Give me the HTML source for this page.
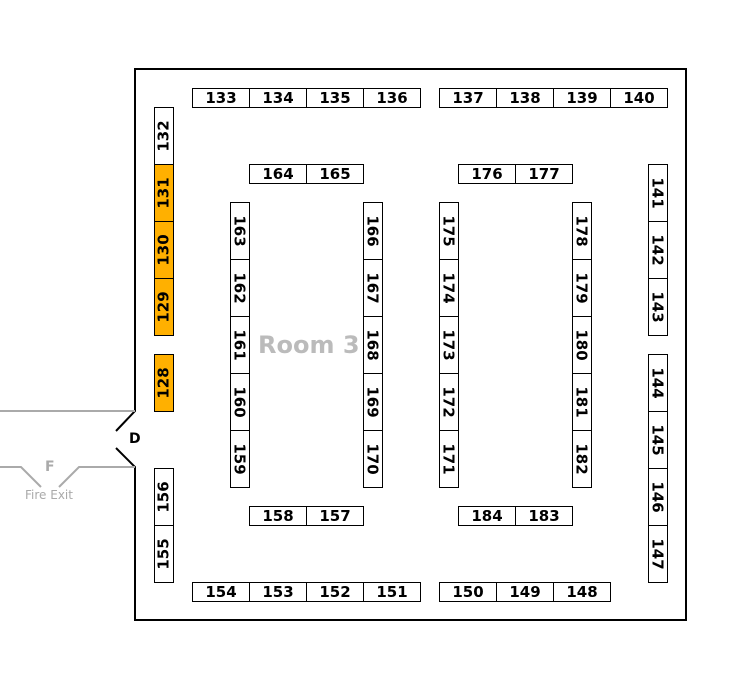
<!DOCTYPE html>
<html><head><meta charset="utf-8">
<style>
html,body{margin:0;padding:0;background:#fff;}
#c{position:relative;width:755px;height:689px;overflow:hidden;font-family:"DejaVu Sans","Liberation Sans",sans-serif;}
.b{position:absolute;box-sizing:border-box;border:1px solid #000;background:#fff;display:flex;align-items:center;justify-content:center;font-weight:bold;font-size:15px;color:#000;}
.h{width:58px;height:20px;}
.v{width:20px;height:58px;}
.v span{display:inline-block;white-space:nowrap;}
.up span{transform:rotate(-90deg);}
.dn span{transform:rotate(90deg);}
.o{background:#FFB000;}
svg{position:absolute;left:0;top:0;}
.t{position:absolute;font-weight:bold;}
</style></head><body><div id="c">
<svg width="755" height="689">
<path d="M116,431 L135,411 L135,69 L686,69 L686,620 L135,620 L135,467 L116,448" fill="none" stroke="#000" stroke-width="2"/>
<path d="M0,411 L135,411" stroke="#aaa" stroke-width="2" fill="none"/>
<path d="M0,467 L21,467 L41,487 M59,487 L79,467 L135,467" stroke="#aaa" stroke-width="2" fill="none"/>
</svg>
<div class="t" style="left:129px;top:431px;font-size:14px;">D</div>
<div class="t" style="left:45px;top:459px;font-size:14px;color:#aaa;">F</div>
<div class="t" style="left:25px;top:488px;font-size:12px;font-weight:normal;color:#aaa;">Fire Exit</div>
<div class="t" style="left:258px;top:331px;font-size:24px;color:#bbb;">Room 3</div>

<div class="b h" style="left:192px;top:88px">133</div>
<div class="b h" style="left:249px;top:88px">134</div>
<div class="b h" style="left:306px;top:88px">135</div>
<div class="b h" style="left:363px;top:88px">136</div>
<div class="b h" style="left:439px;top:88px">137</div>
<div class="b h" style="left:496px;top:88px">138</div>
<div class="b h" style="left:553px;top:88px">139</div>
<div class="b h" style="left:610px;top:88px">140</div>

<div class="b h" style="left:249px;top:164px">164</div>
<div class="b h" style="left:306px;top:164px">165</div>
<div class="b h" style="left:458px;top:164px">176</div>
<div class="b h" style="left:515px;top:164px">177</div>

<div class="b h" style="left:249px;top:506px">158</div>
<div class="b h" style="left:306px;top:506px">157</div>
<div class="b h" style="left:458px;top:506px">184</div>
<div class="b h" style="left:515px;top:506px">183</div>

<div class="b h" style="left:192px;top:582px">154</div>
<div class="b h" style="left:249px;top:582px">153</div>
<div class="b h" style="left:306px;top:582px">152</div>
<div class="b h" style="left:363px;top:582px">151</div>
<div class="b h" style="left:439px;top:582px">150</div>
<div class="b h" style="left:496px;top:582px">149</div>
<div class="b h" style="left:553px;top:582px">148</div>

<div class="b v up" style="left:154px;top:107px"><span>132</span></div>
<div class="b v up o" style="left:154px;top:164px"><span>131</span></div>
<div class="b v up o" style="left:154px;top:221px"><span>130</span></div>
<div class="b v up o" style="left:154px;top:278px"><span>129</span></div>
<div class="b v up o" style="left:154px;top:354px"><span>128</span></div>
<div class="b v up" style="left:154px;top:468px"><span>156</span></div>
<div class="b v up" style="left:154px;top:525px"><span>155</span></div>

<div class="b v dn" style="left:230px;top:202px"><span>163</span></div>
<div class="b v dn" style="left:230px;top:259px"><span>162</span></div>
<div class="b v dn" style="left:230px;top:316px"><span>161</span></div>
<div class="b v dn" style="left:230px;top:373px"><span>160</span></div>
<div class="b v dn" style="left:230px;top:430px"><span>159</span></div>

<div class="b v dn" style="left:363px;top:202px"><span>166</span></div>
<div class="b v dn" style="left:363px;top:259px"><span>167</span></div>
<div class="b v dn" style="left:363px;top:316px"><span>168</span></div>
<div class="b v dn" style="left:363px;top:373px"><span>169</span></div>
<div class="b v dn" style="left:363px;top:430px"><span>170</span></div>

<div class="b v dn" style="left:439px;top:202px"><span>175</span></div>
<div class="b v dn" style="left:439px;top:259px"><span>174</span></div>
<div class="b v dn" style="left:439px;top:316px"><span>173</span></div>
<div class="b v dn" style="left:439px;top:373px"><span>172</span></div>
<div class="b v dn" style="left:439px;top:430px"><span>171</span></div>

<div class="b v dn" style="left:572px;top:202px"><span>178</span></div>
<div class="b v dn" style="left:572px;top:259px"><span>179</span></div>
<div class="b v dn" style="left:572px;top:316px"><span>180</span></div>
<div class="b v dn" style="left:572px;top:373px"><span>181</span></div>
<div class="b v dn" style="left:572px;top:430px"><span>182</span></div>

<div class="b v dn" style="left:648px;top:164px"><span>141</span></div>
<div class="b v dn" style="left:648px;top:221px"><span>142</span></div>
<div class="b v dn" style="left:648px;top:278px"><span>143</span></div>
<div class="b v dn" style="left:648px;top:354px"><span>144</span></div>
<div class="b v dn" style="left:648px;top:411px"><span>145</span></div>
<div class="b v dn" style="left:648px;top:468px"><span>146</span></div>
<div class="b v dn" style="left:648px;top:525px"><span>147</span></div>
</div></body></html>
